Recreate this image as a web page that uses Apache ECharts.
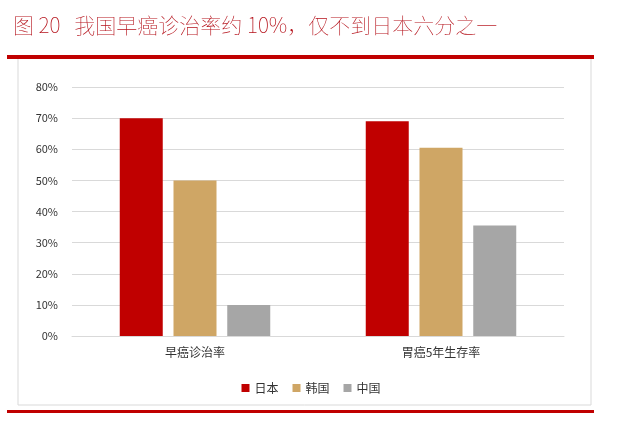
<!DOCTYPE html><html><head><meta charset="utf-8"><script src="https://cdn.jsdelivr.net/npm/echarts@6/dist/echarts.min.js"></script></head><body style="margin:0"><div id="c" style="width:622px;height:437px"></div><script>
const categories=['早癌诊治率','胃癌5年生存率'];
const japan=[70,69];
const korea=[50,60.5];
const china=[10,35.5];
const c=echarts.init(document.getElementById('c'));
const F='"Noto Sans CJK SC"';
c.setOption({
animation:false,
textStyle:{fontFamily:F},
title:{text:'图 20   我国早癌诊治率约 10%，仅不到日本六分之一',left:8,top:10,textStyle:{color:'#b5121b',fontSize:21,fontWeight:'lighter',fontFamily:F}},
graphic:[
{type:'rect',shape:{x:18,y:58,width:573,height:347},style:{fill:'none',stroke:'#d9d9d9',lineWidth:1}},
{type:'rect',shape:{x:7,y:55,width:587,height:4},style:{fill:'#c00000'}},
{type:'rect',shape:{x:7,y:410,width:587,height:3},style:{fill:'#c00000'}}
],
grid:{left:72,right:58,top:87,bottom:101},
legend:{bottom:38,left:'center',itemWidth:8,itemHeight:8,itemGap:14,icon:'rect',textStyle:{fontSize:12,color:'#333'}},
xAxis:{type:'category',data:categories,axisTick:{show:false},axisLine:{lineStyle:{color:'#d9d9d9'}},axisLabel:{color:'#333',fontSize:12,margin:10}},
yAxis:{type:'value',min:0,max:80,interval:10,axisLabel:{formatter:'{value}%',color:'#333',fontSize:11,margin:14},splitLine:{lineStyle:{color:'#d9d9d9'}}},
series:[
{name:'日本',type:'bar',data:japan,barWidth:43,barGap:'25%',itemStyle:{color:'#c00000'}},
{name:'韩国',type:'bar',data:korea,barWidth:43,itemStyle:{color:'#cfa665'}},
{name:'中国',type:'bar',data:china,barWidth:43,itemStyle:{color:'#a6a6a6'}}
]});
</script></body></html>
